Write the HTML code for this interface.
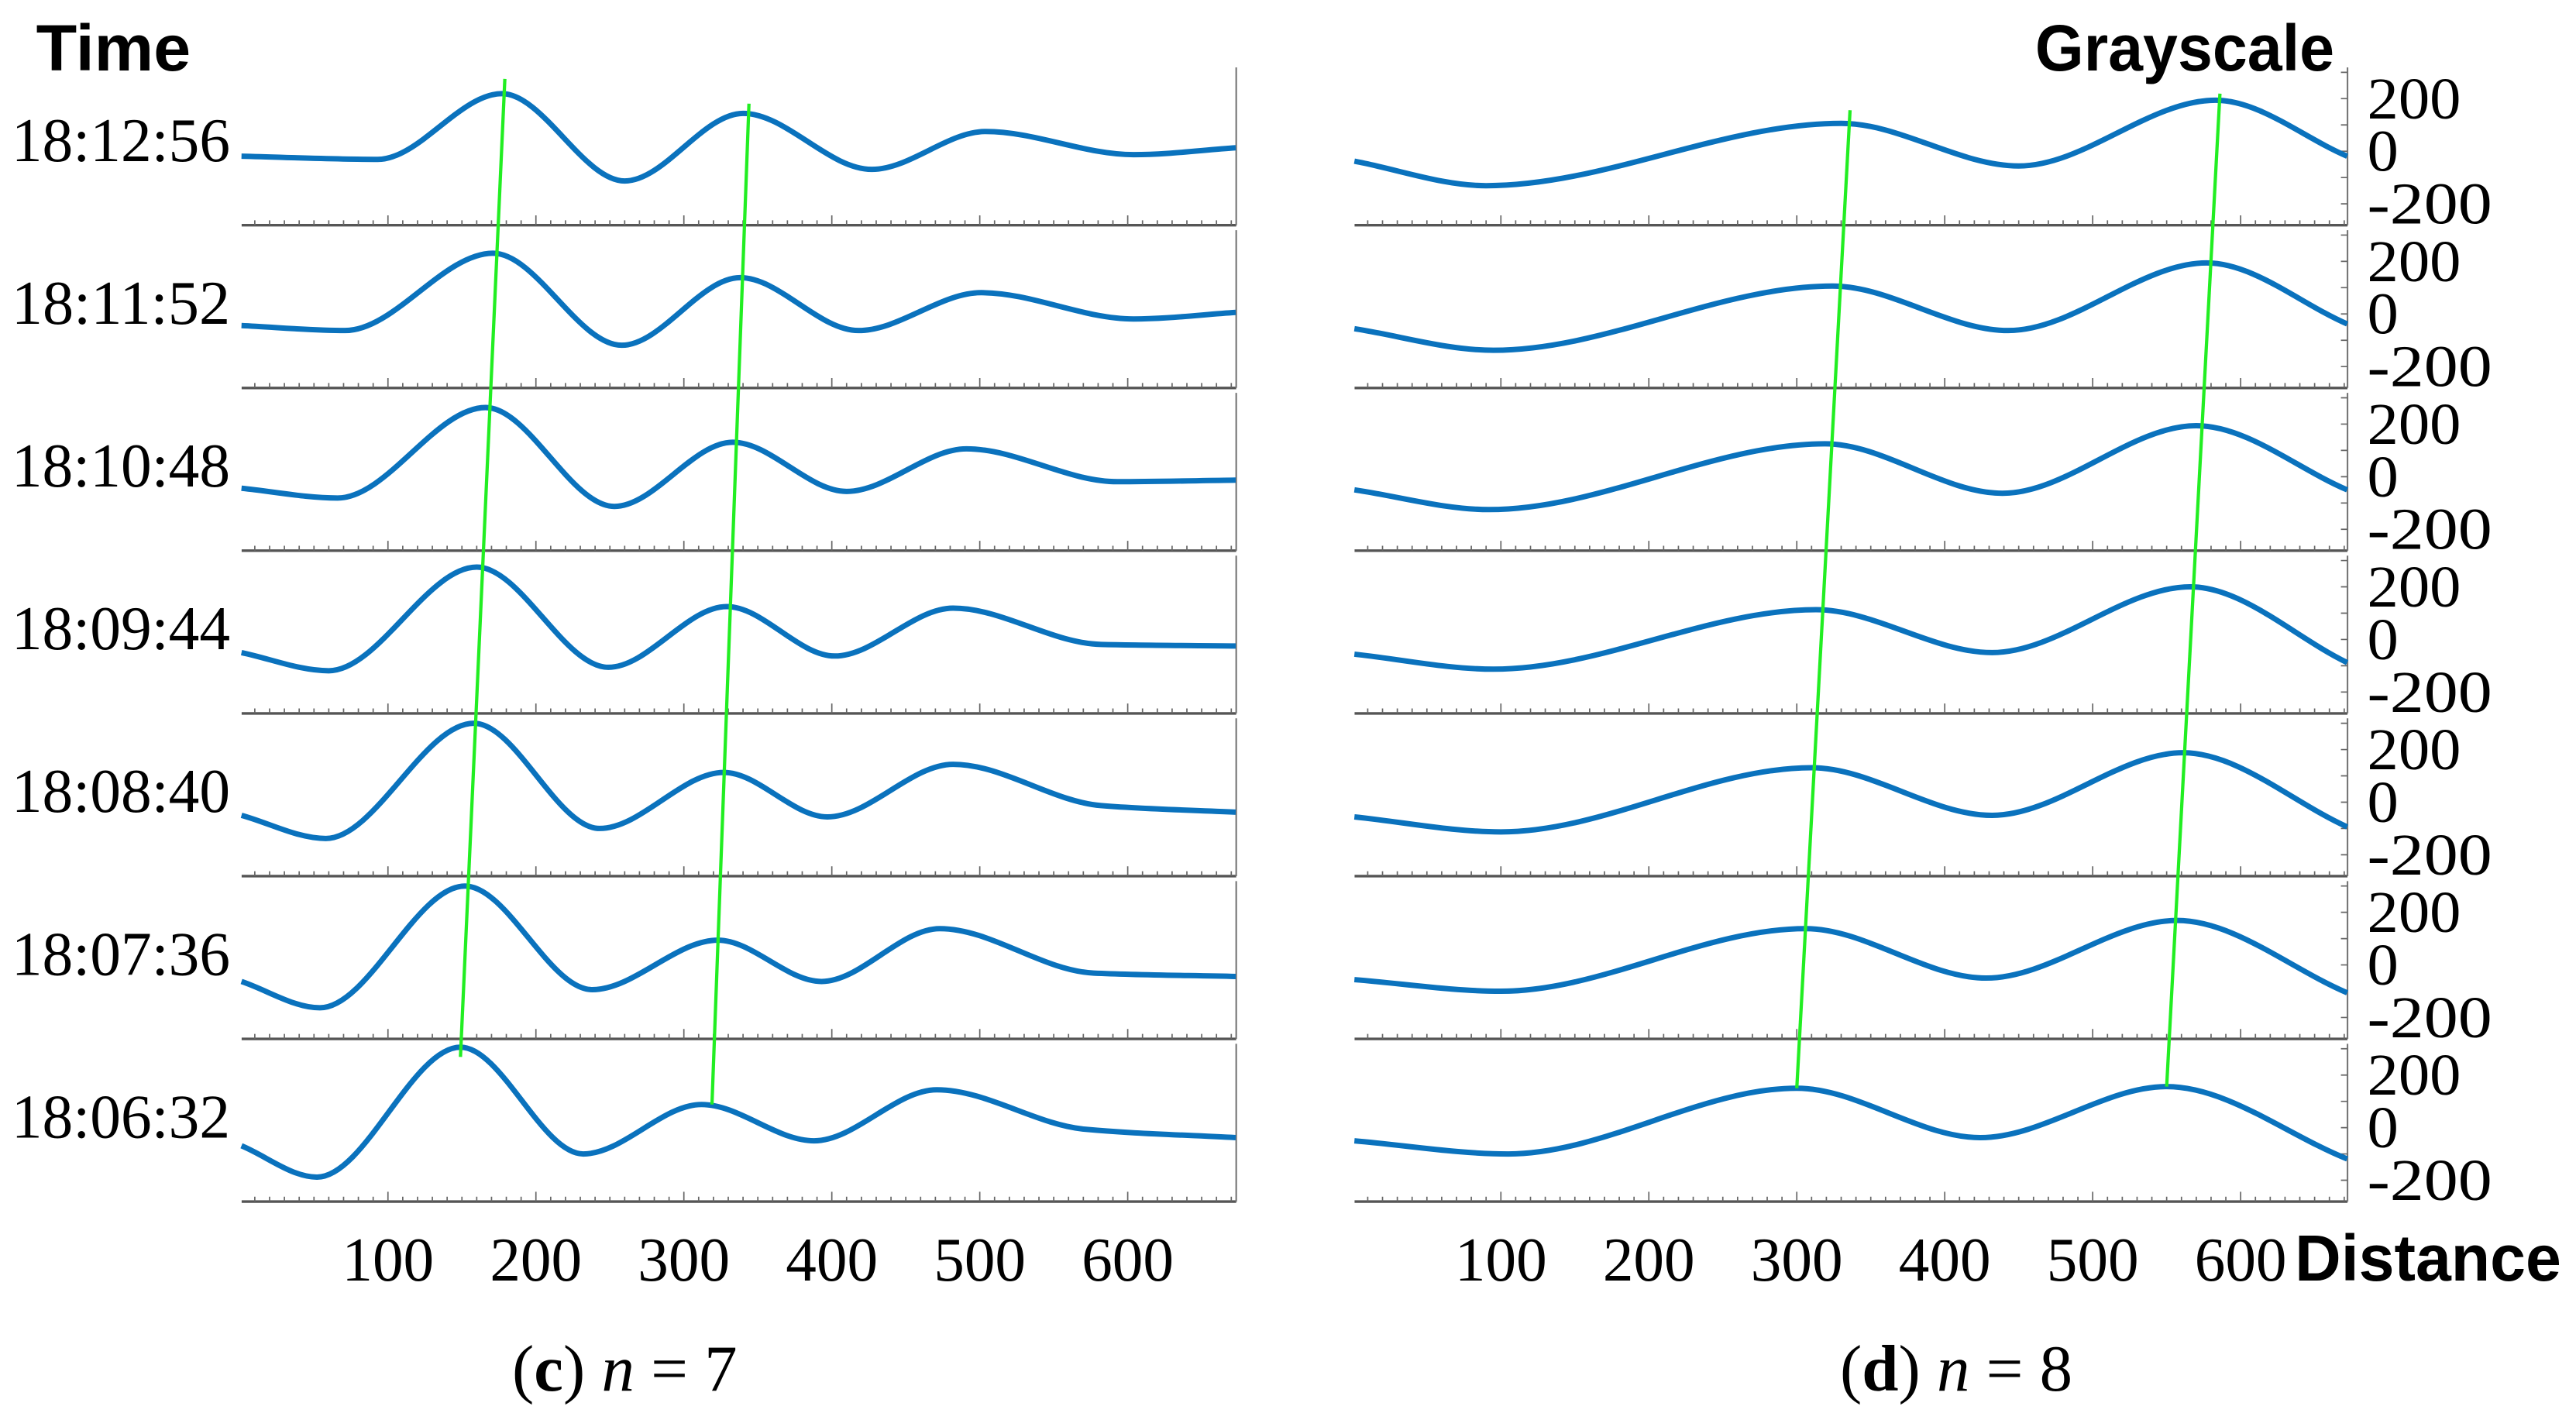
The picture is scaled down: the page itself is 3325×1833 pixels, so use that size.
<!DOCTYPE html>
<html><head><meta charset="utf-8"><style>
html,body{margin:0;padding:0;background:#fff;}
svg{display:block;}
</style></head><body>
<svg id="chart" width="3325" height="1833" viewBox="0 0 1567 863.85" xmlns="http://www.w3.org/2000/svg">
<g id="root"></g>
</svg>
<script>
// ---- data ----
const timeLabels = ["18:12:56","18:11:52","18:10:48","18:09:44","18:08:40","18:07:36","18:06:32"];
const xTickValues = [100,200,300,400,500,600];
const yTickValues = [200,0,-200];
// left panel (c) n=7 : distances & grayscale per row
const leftD = [
 [1,93,177,260,340,427,504,604,673],
 [1,71,171,258,338,418,501,604,673],
 [1,66,166,253,333,410,491,593,673],
 [1,60,160,249,329,402,482,582,673],
 [1,58,158,243,327,397,482,582,673],
 [1,54,152,238,323,393,473,577,673],
 [1,52,149,232,312,388,471,571,673]
];
const leftV = [
 [-19,-31,219,-113,144,-69,75,-13,13],
 [-44,-63,231,-119,138,-63,81,-19,6],
 [-44,-81,263,-113,131,-56,106,-19,-13],
 [-50,-119,275,-106,125,-63,119,-19,-25],
 [-50,-138,300,-100,113,-56,144,-13,-38],
 [-63,-163,300,-94,94,-63,138,-31,-44],
 [-69,-188,306,-100,88,-50,144,-6,-38]
];
// right panel (d) n=8
const rightD = [
 [1,90,330,450,583,672],
 [1,95,324,443,577,672],
 [1,92,319,439,570,672],
 [1,95,313,432,566,672],
 [1,100,310,432,561,672],
 [1,100,306,428,557,672],
 [1,105,300,424,550,672]
];
const rightV = [
 [-38,-131,106,-56,194,-19],
 [-56,-138,106,-63,194,-38],
 [-50,-125,125,-63,194,-50],
 [-56,-113,113,-50,200,-88],
 [-56,-113,131,-50,188,-94],
 [-56,-100,138,-50,169,-106],
 [-50,-100,150,-38,156,-119]
];
const leftTrackTop = [179,344];
const leftTrackBottom = [149,319];
const rightTrackTop = [336,586];
const rightTrackBottom = [300,550];
const trackTopValue = [250,156];
const trackBottomValue = [269,88];
const rightTrackTopValue = [131,194];
const rightTrackBottomValue = [150,156];

// ---- layout ----
const NS="http://www.w3.org/2000/svg";
const root=document.getElementById('root');
const rowBottom0=137, rowStep=99, rowH=96;
const pxPerUnit=0.9, ppv=32/200;
const panels={left:{x0:146,xr:752}, right:{x0:823,xr:1428}};
function xs(p,d){return panels[p].x0+d*pxPerUnit;}
function zeroY(i){return rowBottom0+i*rowStep-45;}
function ys(i,v){return zeroY(i)-v*ppv;}
function mk(tag,attrs,parent){const e=document.createElementNS(NS,tag);for(const k in attrs)e.setAttribute(k,attrs[k]);(parent||root).appendChild(e);return e;}
function smooth(pts){
  const n=pts.length, dx=[], m=[], s=[];
  for(let i=0;i<n-1;i++){dx[i]=pts[i+1][0]-pts[i][0];s[i]=(pts[i+1][1]-pts[i][1])/dx[i];}
  m[0]=s[0];m[n-1]=s[n-2];
  for(let i=1;i<n-1;i++){m[i]=(s[i-1]*s[i]<=0)?0:(2/(1/s[i-1]+1/s[i]));}
  let d="M"+pts[0][0]+","+pts[0][1];
  for(let i=0;i<n-1;i++){
    const h=dx[i]/3;
    d+=" C"+(pts[i][0]+h)+","+(pts[i][1]+m[i]*h)+" "+(pts[i+1][0]-h)+","+(pts[i+1][1]-m[i+1]*h)+" "+pts[i+1][0]+","+pts[i+1][1];
  }
  return d;
}
function txt(x,y,s,attrs){const t=mk('text',Object.assign({x:x,y:y},attrs));t.textContent=s;return t;}

function drawAxes(p,i){
  const b=rowBottom0+i*rowStep, P=panels[p];
  const ax=mk('line',{x1:P.x0+1,y1:b,x2:P.xr,y2:b,stroke:'#555','stroke-width':1.6});
  
  
  const rb=mk('line',{x1:P.xr,y1:b-rowH,x2:P.xr,y2:b,stroke:'#777','stroke-width':1});
  
  
  let dd="";
  for(let d=10; xs(p,d)<P.xr; d+=10){const x=xs(p,d);const h=(d%100===0)?6:3;dd+="M"+x+","+b+"v"+(-h);}
  const tk=mk('path',{d:dd,stroke:'#666','stroke-width':0.8,fill:'none'});
  
  
}
for(let i=0;i<7;i++){
  drawAxes('left',i); drawAxes('right',i);
  const tl=txt(140,zeroY(i)+6,timeLabels[i],{'font-family':'"Liberation Serif",serif','font-size':38,'text-anchor':'end',textLength:133,lengthAdjust:'spacingAndGlyphs'});
  
  
  let dd="";
  for(let v=-300;v<=300;v+=100){const y=ys(i,v);if(y<rowBottom0+i*rowStep-rowH||y>rowBottom0+i*rowStep)continue;dd+="M"+panels.right.xr+","+y+"h-4";}
  const yt=mk('path',{d:dd,stroke:'#666','stroke-width':0.8,fill:'none'});
  
  
  yTickValues.forEach(v=>{
    const s=v<0?"-"+Math.abs(v):String(v);
    const t=txt(1440,ys(i,v)+12,s,{'font-family':'"Liberation Serif",serif','font-size':36,textLength:s.length*19,lengthAdjust:'spacingAndGlyphs'});
    
    
  });
  const lp=leftD[i].map((d,k)=>[xs('left',d),ys(i,leftV[i][k])]);
  const l=mk('path',{d:smooth(lp),stroke:'#0a72bd','stroke-width':3.3,fill:'none','stroke-linejoin':'round'});
  
  
  const rp=rightD[i].map((d,k)=>[xs('right',d),ys(i,rightV[i][k])]);
  const r=mk('path',{d:smooth(rp),stroke:'#0a72bd','stroke-width':3.3,fill:'none','stroke-linejoin':'round'});
  
  
}
for(let k=0;k<2;k++){
  const g=mk('line',{x1:xs('left',leftTrackTop[k]),y1:ys(0,trackTopValue[k])-4,x2:xs('left',leftTrackBottom[k]),y2:ys(6,trackBottomValue[k]),stroke:'#22ee22','stroke-width':2});
  
  
  const g2=mk('line',{x1:xs('right',rightTrackTop[k]),y1:ys(0,rightTrackTopValue[k])-4,x2:xs('right',rightTrackBottom[k]),y2:ys(6,rightTrackBottomValue[k]),stroke:'#22ee22','stroke-width':2});
  
  
}
['left','right'].forEach(p=>{
  xTickValues.forEach(v=>{
    const t=txt(xs(p,v),779,String(v),{'font-family':'"Liberation Serif",serif','font-size':38,'text-anchor':'middle',textLength:56,lengthAdjust:'spacingAndGlyphs'});
    
    
  });
});
const tt=txt(22,43,"Time",{'font-family':'"Liberation Sans",sans-serif','font-size':40,'font-weight':'bold',textLength:94,lengthAdjust:'spacingAndGlyphs'});


const gt=txt(1420,43,"Grayscale",{'font-family':'"Liberation Sans",sans-serif','font-size':40,'font-weight':'bold','text-anchor':'end',textLength:182,lengthAdjust:'spacingAndGlyphs'});


const dt=txt(1396,779,"Distance",{'font-family':'"Liberation Sans",sans-serif','font-size':40,'font-weight':'bold',textLength:162,lengthAdjust:'spacingAndGlyphs'});


function caption(x,letter,n,name){
  const t=mk('text',{x:x,y:846,'font-family':'"Liberation Serif",serif','font-size':40,'text-anchor':'middle'});
  
  
  t.innerHTML='(<tspan font-weight="bold">'+letter+'</tspan>) <tspan font-style="italic">n</tspan> = '+n;
}
caption(380,'c',7,'caption-c');
caption(1190,'d',8,'caption-d');
</script>
</body></html>
